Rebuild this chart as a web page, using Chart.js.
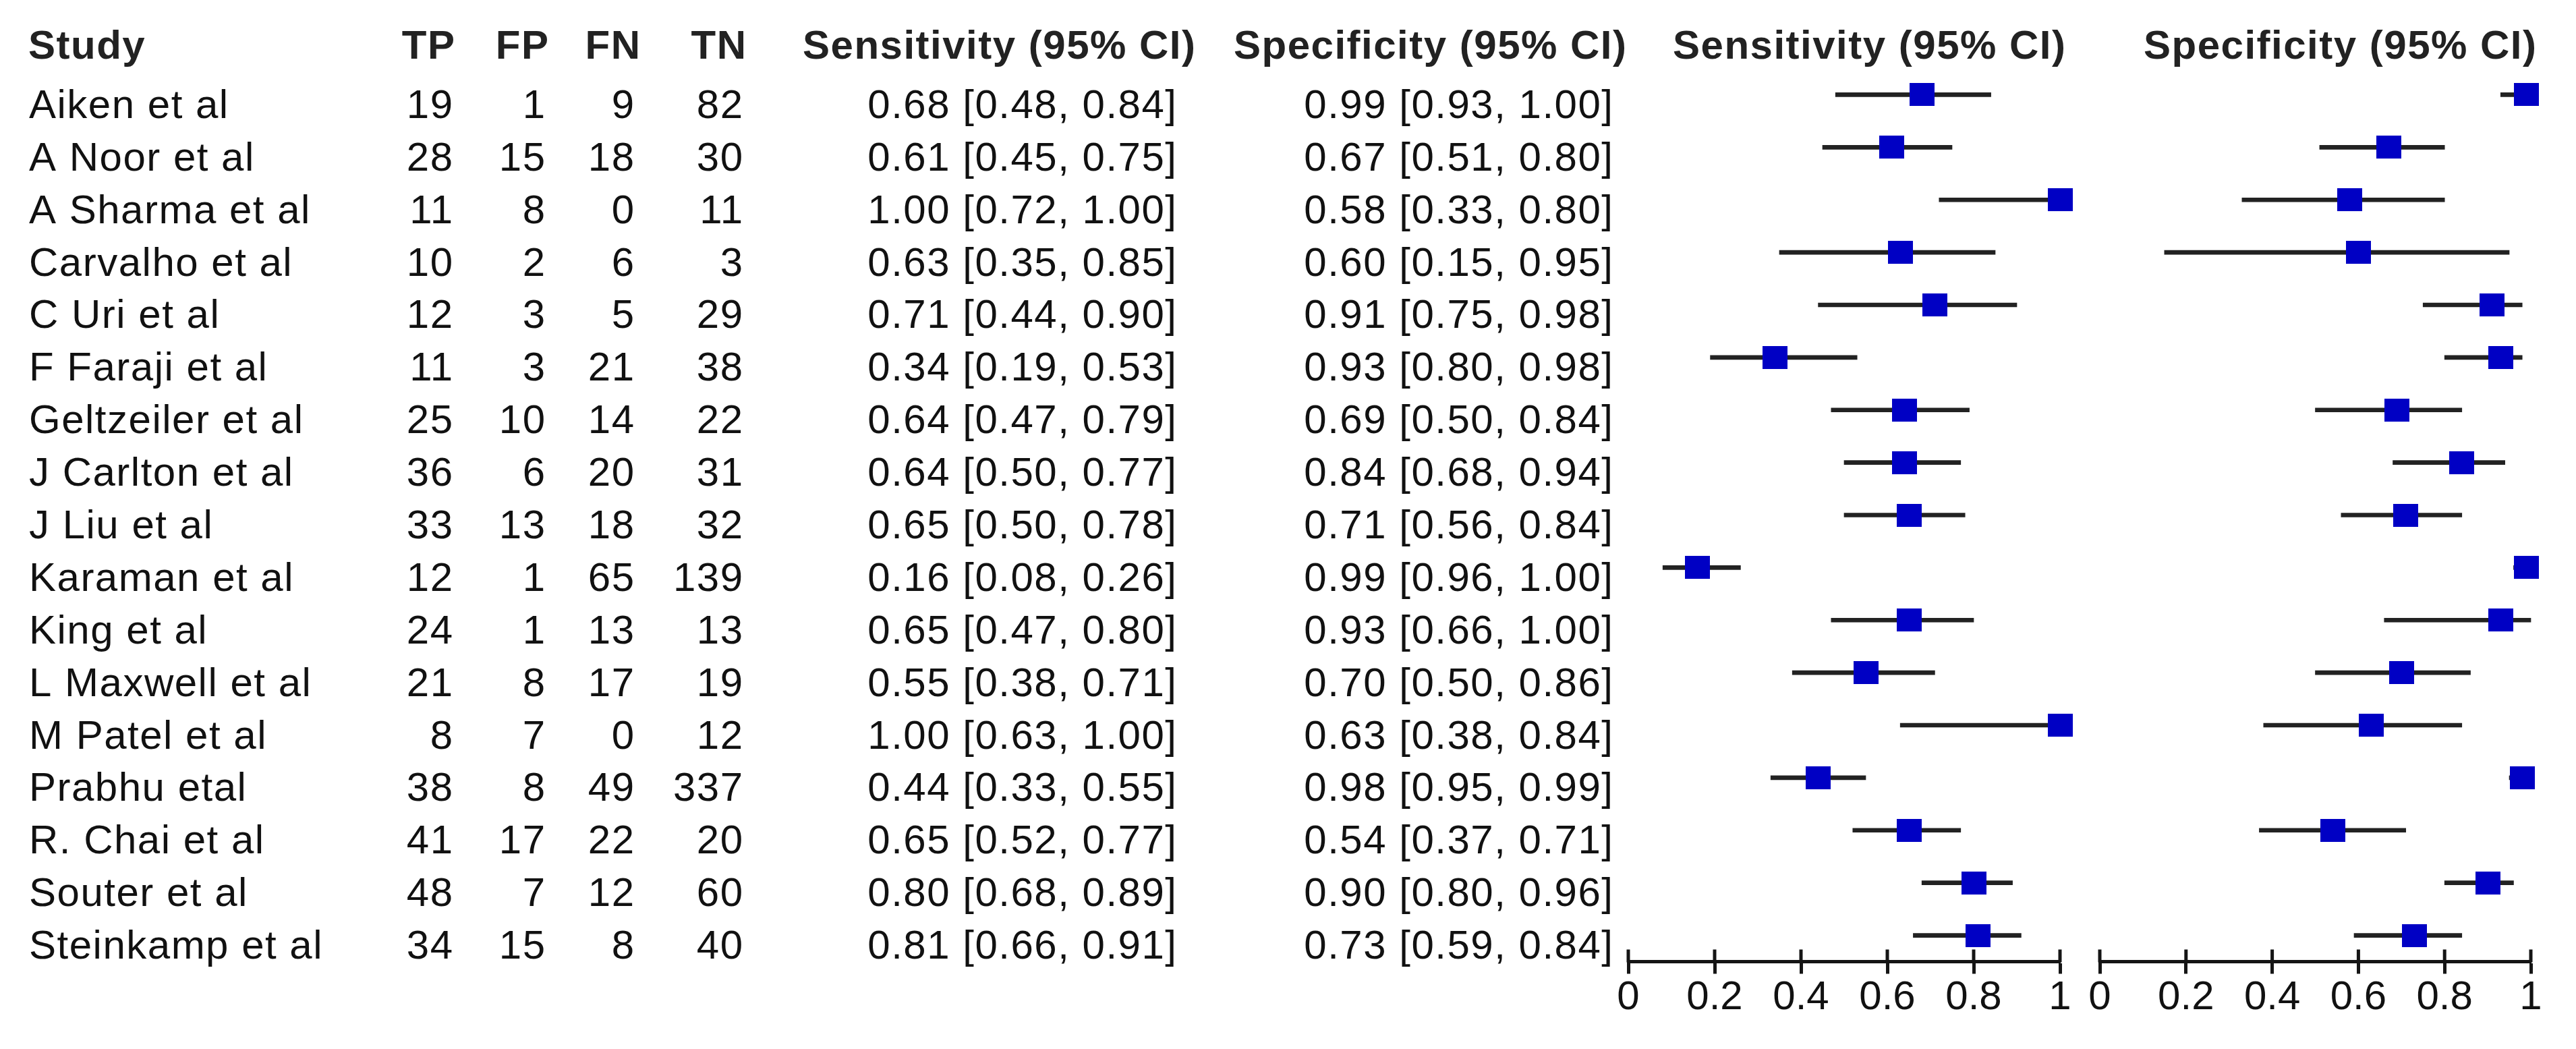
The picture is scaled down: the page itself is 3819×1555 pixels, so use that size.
<!DOCTYPE html>
<html>
<head>
<meta charset="utf-8">
<script src="https://cdn.jsdelivr.net/npm/chart.js@4.4.1/dist/chart.umd.min.js"></script>
<style>
  html, body { margin: 0; padding: 0; background: #ffffff; width: 3819px; height: 1555px; overflow: hidden; }
  #w1 { position: absolute; left: 0; top: 0; width: 3085px; height: 1555px; }
  #w2 { position: absolute; left: 3085px; top: 0; width: 734px; height: 1555px; }
  canvas { display: block; }
</style>
</head>
<body>
<div id="w1"><canvas id="c1" width="3085" height="1555"></canvas></div>
<div id="w2"><canvas id="c2" width="734" height="1555"></canvas></div>
<script>
// ---------------- data ----------------
const studies = ['Aiken et al', 'A Noor et al', 'A Sharma et al', 'Carvalho et al', 'C Uri et al',
  'F Faraji et al', 'Geltzeiler et al', 'J Carlton et al', 'J Liu et al', 'Karaman et al',
  'King et al', 'L Maxwell et al', 'M Patel et al', 'Prabhu etal', 'R. Chai et al',
  'Souter et al', 'Steinkamp et al'];
const TP = [19, 28, 11, 10, 12, 11, 25, 36, 33, 12, 24, 21, 8, 38, 41, 48, 34];
const FP = [1, 15, 8, 2, 3, 3, 10, 6, 13, 1, 1, 8, 7, 8, 17, 7, 15];
const FN = [9, 18, 0, 6, 5, 21, 14, 20, 18, 65, 13, 17, 0, 49, 22, 12, 8];
const TN = [82, 30, 11, 3, 29, 38, 22, 31, 32, 139, 13, 19, 12, 337, 20, 60, 40];
const sens   = [0.68, 0.61, 1.00, 0.63, 0.71, 0.34, 0.64, 0.64, 0.65, 0.16, 0.65, 0.55, 1.00, 0.44, 0.65, 0.80, 0.81];
const sensLo = [0.48, 0.45, 0.72, 0.35, 0.44, 0.19, 0.47, 0.50, 0.50, 0.08, 0.47, 0.38, 0.63, 0.33, 0.52, 0.68, 0.66];
const sensHi = [0.84, 0.75, 1.00, 0.85, 0.90, 0.53, 0.79, 0.77, 0.78, 0.26, 0.80, 0.71, 1.00, 0.55, 0.77, 0.89, 0.91];
const spec   = [0.99, 0.67, 0.58, 0.60, 0.91, 0.93, 0.69, 0.84, 0.71, 0.99, 0.93, 0.70, 0.63, 0.98, 0.54, 0.90, 0.73];
const specLo = [0.93, 0.51, 0.33, 0.15, 0.75, 0.80, 0.50, 0.68, 0.56, 0.96, 0.66, 0.50, 0.38, 0.95, 0.37, 0.80, 0.59];
const specHi = [1.00, 0.80, 0.80, 0.95, 0.98, 0.98, 0.84, 0.94, 0.84, 1.00, 1.00, 0.86, 0.84, 0.99, 0.71, 0.96, 0.84];
const tickVals   = [0, 0.2, 0.4, 0.6, 0.8, 1];
const tickLabels = ['0', '0.2', '0.4', '0.6', '0.8', '1'];
const headers = ['Study', 'TP', 'FP', 'FN', 'TN', 'Sensitivity (95% CI)', 'Specificity (95% CI)'];
const plotHeaders = ['Sensitivity (95% CI)', 'Specificity (95% CI)'];

// ---------------- style ----------------
const FONT = '"Liberation Sans", Arial, Helvetica, sans-serif';
const TEXT = '#111111';
const HEAD = '#222222';
const AXIS = '#151515';
const LINE = '#222222';
const BLUE = '#0000c4';
const PAGE_H = 1555;
const PLOT_TOP = 101.5;
const AXIS_Y = 1425.5;
const TICK_UP = 18;
const LS = 1.5;

function ci(v, lo, hi) { return v.toFixed(2) + ' [' + lo.toFixed(2) + ', ' + hi.toFixed(2) + ']'; }

function markerImage() {
  const c = document.createElement('canvas');
  c.width = 37; c.height = 34;
  const g = c.getContext('2d');
  g.fillStyle = BLUE;
  g.fillRect(0, 0, 37, 34);
  return c;
}
const MARK = markerImage();

const upTicks = {
  id: 'upTicks',
  afterDraw(chart) {
    const s = chart.scales.x, ctx = chart.ctx;
    ctx.save();
    ctx.strokeStyle = AXIS; ctx.lineWidth = 5;
    s.ticks.forEach(t => {
      const px = s.getPixelForValue(t.value);
      ctx.beginPath(); ctx.moveTo(px, s.top - TICK_UP); ctx.lineTo(px, s.top + 1); ctx.stroke();
    });
    ctx.restore();
  }
};

function plotHeader(text) {
  return {
    id: 'plotHeader',
    afterDraw(chart) {
      const ctx = chart.ctx, y = chart.scales.y;
      ctx.save();
      ctx.font = 'bold 60px ' + FONT;
      try { ctx.letterSpacing = LS + 'px'; } catch (e) {}
      ctx.fillStyle = HEAD; ctx.textAlign = 'right'; ctx.textBaseline = 'alphabetic';
      ctx.fillText(text, chart.chartArea.right + 8 + LS, y.getPixelForValue(0) - 53.5);
      ctx.restore();
    }
  };
}

const table = {
  id: 'table',
  afterDraw(chart) {
    const ctx = chart.ctx, y = chart.scales.y;
    ctx.save();
    try { ctx.letterSpacing = LS + 'px'; } catch (e) {}
    ctx.textBaseline = 'alphabetic';
    const hb = y.getPixelForValue(0) - 53.5;
    ctx.font = 'bold 60px ' + FONT;
    ctx.fillStyle = HEAD;
    ctx.textAlign = 'left';
    ctx.fillText(headers[0], 42, hb);
    ctx.textAlign = 'right';
    const hx = [674, 813, 949, 1106, 1772, 2411];
    for (let k = 1; k < headers.length; k++) ctx.fillText(headers[k], hx[k - 1] + LS, hb);

    ctx.font = '60px ' + FONT;
    ctx.fillStyle = TEXT;
    studies.forEach((name, i) => {
      const b = y.getPixelForValue(i) + 34.5;
      ctx.textAlign = 'left';
      ctx.fillText(name, 43, b);
      ctx.textAlign = 'right';
      ctx.fillText(String(TP[i]), 671 + LS, b);
      ctx.fillText(String(FP[i]), 808 + LS, b);
      ctx.fillText(String(FN[i]), 940 + LS, b);
      ctx.fillText(String(TN[i]), 1101 + LS, b);
      ctx.fillText(ci(sens[i], sensLo[i], sensHi[i]), 1744 + LS, b);
      ctx.fillText(ci(spec[i], specLo[i], specHi[i]), 2391 + LS, b);
    });
    ctx.restore();
  }
};

function makeChart(canvas, est, lo, hi, padL, padR, extraPlugins) {
  return new Chart(canvas, {
    type: 'bar',
    data: {
      labels: studies,
      datasets: [
        {
          type: 'line', data: est, showLine: false,
          pointStyle: MARK, pointRadius: 18, pointHoverRadius: 18,
          order: 0, clip: false
        },
        {
          type: 'bar', data: studies.map((s, i) => [lo[i], hi[i]]),
          backgroundColor: LINE, borderWidth: 0, barThickness: 6,
          order: 1, clip: false
        }
      ]
    },
    options: {
      indexAxis: 'y',
      responsive: false, maintainAspectRatio: false, animation: false, devicePixelRatio: 1,
      events: [],
      layout: { padding: { left: padL, right: padR, top: PLOT_TOP, bottom: 0 } },
      plugins: { legend: { display: false }, tooltip: { enabled: false }, title: { display: false } },
      scales: {
        y: { type: 'category', display: false, offset: true },
        x: {
          type: 'linear', position: 'bottom', min: 0, max: 1,
          afterBuildTicks: s => { s.ticks = tickVals.map(v => ({ value: v })); },
          afterFit: s => { s.height = PAGE_H - AXIS_Y; },
          border: { display: true, width: 5, color: AXIS },
          grid: { drawOnChartArea: false, drawTicks: true, tickLength: 18, tickWidth: 5, tickColor: AXIS, color: AXIS },
          ticks: {
            padding: 0, maxRotation: 0, autoSkip: false, color: '#111111',
            font: { family: FONT, size: 60 },
            callback: (v) => { const k = tickVals.indexOf(v); return k >= 0 ? tickLabels[k] : ''; }
          }
        }
      }
    },
    plugins: [upTicks].concat(extraPlugins)
  });
}

makeChart(document.getElementById('c1'), sens, sensLo, sensHi, 2414, 31, [table, plotHeader(plotHeaders[0])]);
makeChart(document.getElementById('c2'), spec, specLo, specHi, 28, 67, [plotHeader(plotHeaders[1])]);
</script>
</body>
</html>
